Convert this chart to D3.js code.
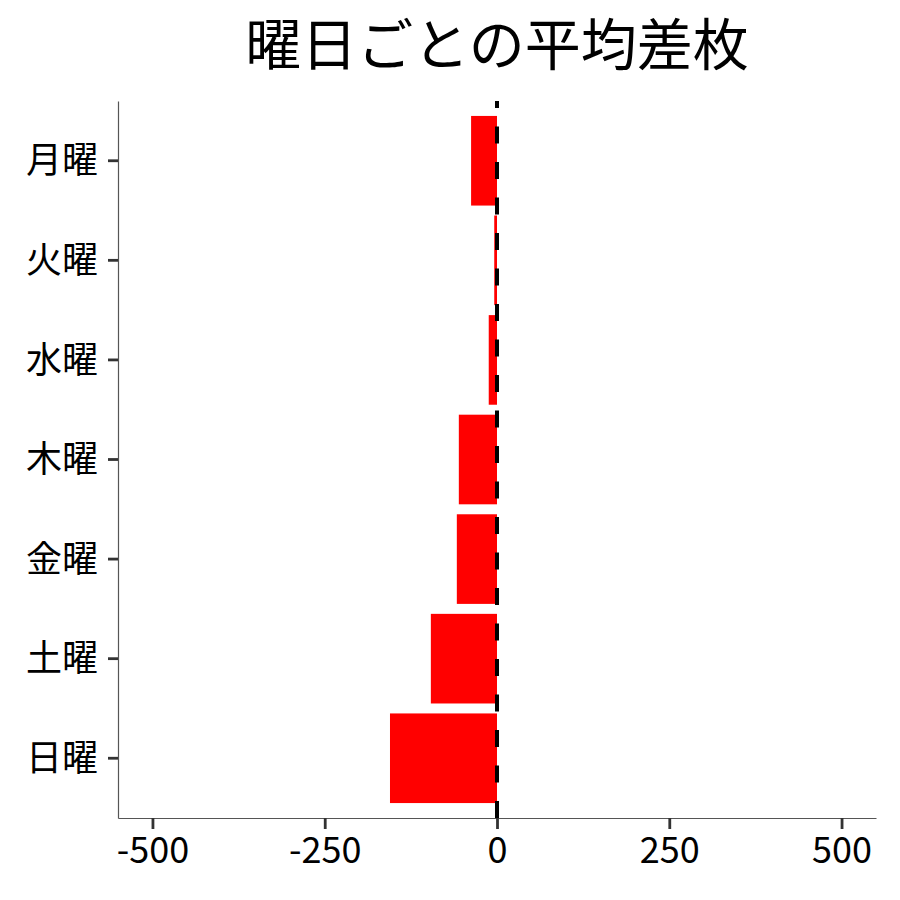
<!DOCTYPE html>
<html>
<head>
<meta charset="utf-8">
<script src="https://cdn.jsdelivr.net/npm/d3@7"></script>
<style>
  body { margin: 0; background: #fff; }
  text { font-family: "Noto Sans CJK JP", "Noto Sans", sans-serif; }
</style>
</head>
<body>
<div id="chart"></div>
<script>
// 曜日ごとの平均差枚
const days = ['月曜', '火曜', '水曜', '木曜', '金曜', '土曜', '日曜'];
const avgDiff = [-37.6, -4, -12, -55.4, -58.3, -96, -155.3];
const xTicks = [-500, -250, 0, 250, 500];

const width = 900;
const height = 900;
const margin = { top: 101, right: 24, bottom: 82, left: 118 };
const panelW = width - margin.left - margin.right;
const panelH = height - margin.top - margin.bottom;

const data = days.map((d, i) => ({ day: d, value: avgDiff[i] }));

const svg = d3.select('#chart').append('svg')
    .attr('width', width)
    .attr('height', height);

const x = d3.scaleLinear().domain([-550, 550]).range([0, panelW]);
const y = d3.scaleBand()
    .domain(days)
    .range([0, panelH])
    .paddingInner(0.1)
    .paddingOuter(0.15);

const chart = svg.append('g').attr('transform', `translate(${margin.left}, ${margin.top})`);

// bars
chart.selectAll('.bar')
    .data(data)
    .enter()
    .append('rect')
    .attr('class', 'bar')
    .attr('x', (d) => x(Math.min(0, d.value)))
    .attr('y', (d) => y(d.day))
    .attr('width', (d) => Math.abs(x(d.value) - x(0)))
    .attr('height', y.bandwidth())
    .attr('fill', '#ff0000');

// zero line, drawn bottom to top like ggplot
chart.append('line')
    .attr('x1', x(0)).attr('x2', x(0))
    .attr('y1', panelH).attr('y2', 0)
    .attr('stroke', '#000')
    .attr('stroke-width', 4)
    .attr('stroke-dasharray', '17,18.5');

// x axis
const xAxis = chart.append('g')
    .attr('transform', `translate(0, ${panelH})`)
    .call(d3.axisBottom(x).tickValues(xTicks).tickFormat((d) => String(d)).tickSizeInner(11).tickSizeOuter(0).tickPadding(6));
xAxis.select('.domain').attr('stroke', '#555').attr('stroke-width', 1.2);
xAxis.selectAll('.tick line').attr('stroke', '#333').attr('stroke-width', 2.8);
xAxis.selectAll('.tick text')
    .attr('fill', '#000')
    .style('font-size', '36px')
    .attr('dy', '0.78em');

// y axis
const yAxis = chart.append('g')
    .call(d3.axisLeft(y).tickSizeInner(10).tickSizeOuter(0).tickPadding(10));
yAxis.select('.domain').attr('stroke', '#555').attr('stroke-width', 1.2);
yAxis.selectAll('.tick line').attr('stroke', '#333').attr('stroke-width', 2.8);
yAxis.selectAll('.tick text')
    .attr('fill', '#000')
    .style('font-size', '36px')
    .attr('dy', '0.35em');

// title
svg.append('text')
    .attr('x', margin.left + panelW / 2)
    .attr('y', 65)
    .attr('text-anchor', 'middle')
    .style('font-size', '56px')
    .attr('fill', '#000')
    .text('曜日ごとの平均差枚');
</script>
</body>
</html>
